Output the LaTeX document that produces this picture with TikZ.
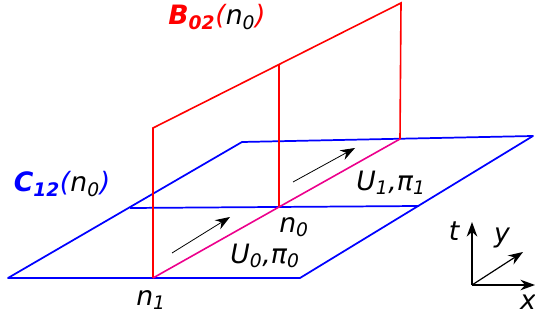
\documentclass[tikz,border=0pt]{standalone}
\usepackage{fontspec}
\setmainfont{DejaVu Sans}
\usetikzlibrary{arrows.meta}
\begin{document}
\begin{tikzpicture}[x=0.75pt, y=-0.75pt, font=\fontsize{20}{24}\selectfont\itshape]
    \tikzset{
      plane/.style={draw=blue, line width=1.3pt, line join=round},
      wall/.style={draw=red, line width=1.2pt},
      flowline/.style={draw=magenta, line width=1.2pt},
      dirarrow/.style={-{Stealth[length=11pt, width=8pt]}, line width=0.6pt},
      axisarrow/.style={-{Stealth[length=11pt, width=8pt]}, line width=0.9pt},
      lbl/.style={inner sep=0pt},
    }
    \useasboundingbox (0,0) rectangle (535,320);

    % the plane C12
    \coordinate (fl) at (8,278);
    \coordinate (fr) at (300,278);
    \coordinate (br) at (533,136);
    \coordinate (bl) at (242,142);
    \coordinate (ml) at (130,208);
    \coordinate (mr) at (419,206);
    \coordinate (n1) at (153,278);
    \coordinate (n0) at (279,207);
    \coordinate (nt) at (400,139);
    \coordinate (wa) at (153,128);
    \coordinate (wb) at (279,64);
    \coordinate (wc) at (401,3);

    \draw[plane] (fl) -- (fr) -- (br) -- (bl) -- cycle;
    \draw[plane] (ml) -- (mr);

    % the wall B02
    \draw[wall] (n1) -- (wa) -- (wc) -- (nt);
    \draw[wall] (n0) -- (wb);
    \draw[flowline] (n1) -- (n0) -- (nt);

    % flow directions
    \coordinate (da) at (172,253);
    \coordinate (db) at (230,217);
    \coordinate (dc) at (293,182);
    \coordinate (dd) at (355,148);
    \draw[dirarrow] (da) -- (db);
    \draw[dirarrow] (dc) -- (dd);

    \node[lbl, text=red] (lb) at (217,17)
      {\textbf{B\textsubscript{02}}(\textcolor{black}{n\textsubscript{0}})};
    \node[lbl, text=blue] (lc) at (62,184)
      {\textbf{C\textsubscript{12}}(\textcolor{black}{n\textsubscript{0}})};
    \node[lbl] (ln1) at (151,300) {n\textsubscript{1}};
    \node[lbl] (ln0) at (294,227) {n\textsubscript{0}};
    \node[lbl] (lu0) at (265,256) {U\textsubscript{0},π\textsubscript{0}};
    \node[lbl] (lu1) at (391,183) {U\textsubscript{1},π\textsubscript{1}};

    % axes
    \coordinate (ax) at (472,285);
    \coordinate (axt) at (472,222);
    \coordinate (axx) at (535,285);
    \coordinate (axy) at (523,252);
    \draw[axisarrow] (ax) -- (axt);
    \draw[axisarrow] (ax) -- (axx);
    \draw[axisarrow] (ax) -- (axy);
    \node[lbl] (lt) at (454,231) {t};
    \node[lbl] (ly) at (502,238) {y};
    \node[lbl] (lx) at (528,302) {x};
  \end{tikzpicture}
\end{document}
